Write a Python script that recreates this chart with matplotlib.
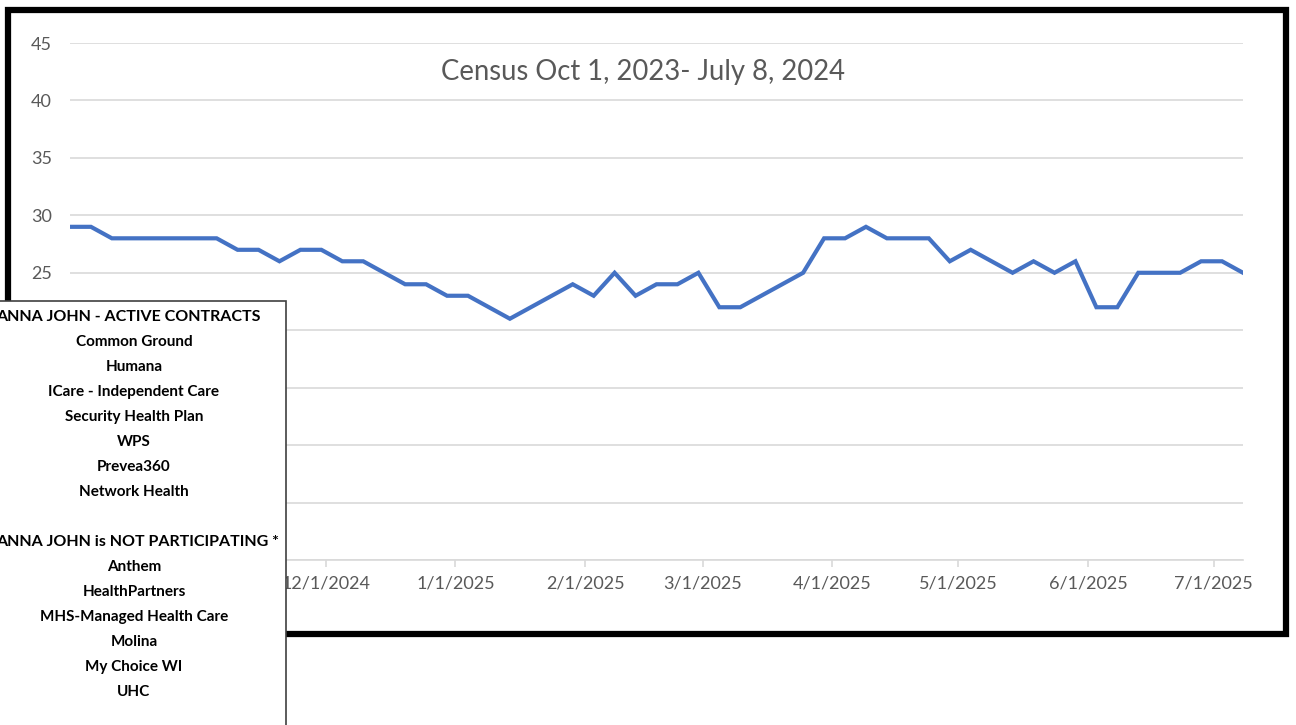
import numpy as np
import pandas as pd
import matplotlib
matplotlib.use("Agg")
import matplotlib.pyplot as plt
import matplotlib.dates as mdates
from matplotlib.patches import Rectangle
from matplotlib.ticker import FuncFormatter

W, H = 1296, 725

# census every 5 days
dates = pd.date_range("2024-10-01", periods=57, freq="5D")
census = [29, 29, 28, 28, 28, 28, 28, 28, 27, 27,
          26, 27, 27, 26, 26, 25, 24, 24, 23, 23,
          22, 21, 22, 23, 24, 23, 25, 23, 24, 24,
          25, 22, 22, 23, 24, 25, 28, 28, 29, 28,
          28, 28, 26, 27, 26, 25, 26, 25, 26, 22,
          22, 25, 25, 25, 26, 26, 25]
# month ticks that show (earlier ones sit under the contracts box)
tick_dates = pd.to_datetime(["2024-12-01", "2025-01-01", "2025-02-01", "2025-03-01",
                             "2025-04-01", "2025-05-01", "2025-06-01", "2025-07-01"])
yticks = [0, 5, 10, 15, 20, 25, 30, 35, 40, 45]
# lower labels are hidden by the box
ylabels = ["", "", "", "", "", "25", "30", "35", "40", "45"]

title = "Census Oct 1, 2023- July 8, 2024"
active_header = "ANNA JOHN - ACTIVE CONTRACTS"
active = ["Common Ground", "Humana", "ICare - Independent Care",
          "Security Health Plan", "WPS", "Prevea360", "Network Health"]
not_header = "ANNA JOHN is NOT PARTICIPATING *"
not_part = ["Anthem", "HealthPartners", "MHS-Managed Health Care",
            "Molina", "My Choice WI", "UHC"]

grey = "#595959"
grid = "#d9d9d9"
blue = "#4472C4"


def fx(x):
    return x / W


def fy(y):
    return 1 - y / H


fig = plt.figure(figsize=(W / 100, H / 100), dpi=100)
plt.rcParams["font.family"] = ["Lato", "DejaVu Sans"]

ax = fig.add_axes([fx(70), fy(560), fx(1243) - fx(70), fy(43) - fy(560)])
ax.plot(dates, census, color=blue, lw=3.0, solid_joinstyle="miter")
ax.set_ylim(0, 45)
ax.set_yticks(yticks)
ax.set_yticklabels(ylabels)
ax.set_xlim(dates[0], dates[-1])
ax.grid(axis="y", color=grid, lw=1.2)
ax.set_axisbelow(True)
for s in ["top", "right", "left"]:
    ax.spines[s].set_visible(False)
ax.spines["bottom"].set_color(grid)
ax.spines["bottom"].set_linewidth(1.2)

ax.set_xticks(tick_dates)
ax.xaxis.set_major_formatter(FuncFormatter(
    lambda v, pos: "{d.month}/{d.day}/{d.year}".format(d=mdates.num2date(v))))
ax.tick_params(axis="x", length=5, color=grid, width=1.2, labelsize=13,
               labelcolor=grey, pad=6)
ax.tick_params(axis="y", length=0, labelsize=13, labelcolor=grey, pad=13)

fig.text(fx(643), fy(72), title, ha="center", va="center", fontsize=19.8, color=grey)

# thick black frame
fig.patches.append(Rectangle((fx(7.5), fy(633.5)), fx(1285.5) - fx(7.5), fy(9.5) - fy(633.5),
                             transform=fig.transFigure, fill=False, ec="black", lw=4.5, zorder=3))

# contracts box on top
fig.patches.append(Rectangle((fx(-10), fy(740)), fx(286) - fx(-10), fy(301) - fy(740),
                             transform=fig.transFigure, fc="white", ec="#404040", lw=1.2, zorder=5))

y = 317
fig.text(fx(-4), fy(y), active_header, ha="left", va="center", fontsize=11.5,
         fontweight="bold", color="black", zorder=6)
for name in active:
    y += 25
    fig.text(fx(134), fy(y), name, ha="center", va="center", fontsize=11,
             fontweight="bold", color="black", zorder=6)
y += 50
fig.text(fx(-4), fy(y), not_header, ha="left", va="center", fontsize=11.5,
         fontweight="bold", color="black", zorder=6)
for name in not_part:
    y += 25
    fig.text(fx(134), fy(y), name, ha="center", va="center", fontsize=11,
             fontweight="bold", color="black", zorder=6)

fig.savefig("out.png", dpi=100)
